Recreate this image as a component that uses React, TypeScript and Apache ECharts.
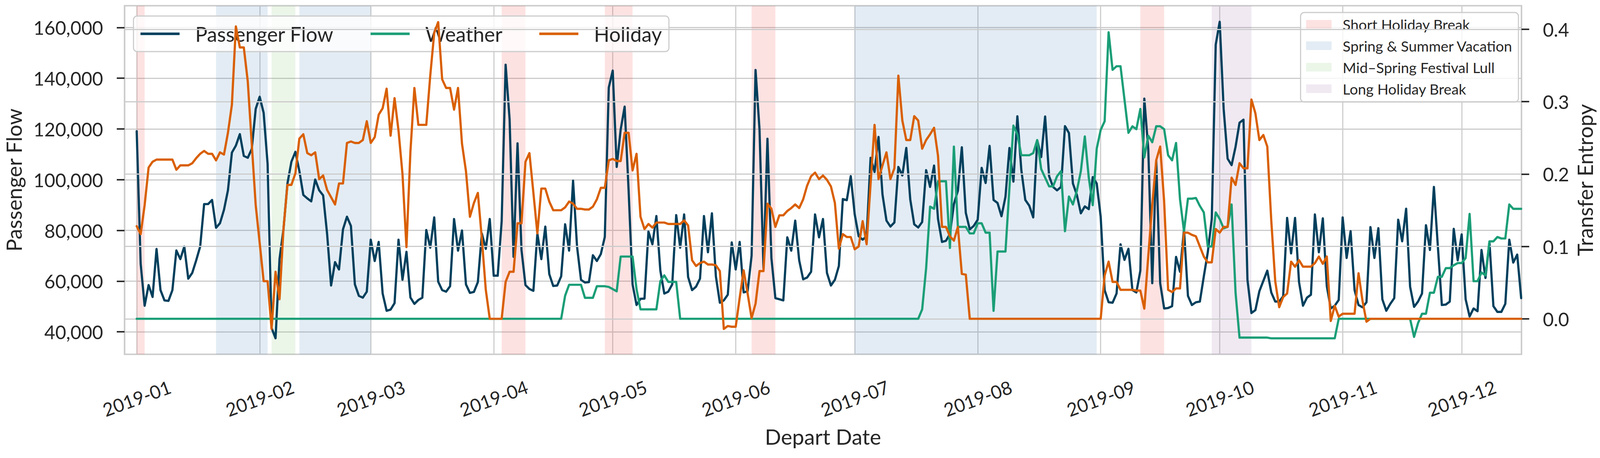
import React, { useEffect, useRef } from "react";
import * as echarts from "echarts";

// ---------- DATA ----------
// Daily passenger flow, 2019-01-01 .. 2019-12-16 (one array per month)
const pfJan = [119100, 66860, 50300, 58450, 53750, 72700, 56460, 52400, 52200, 56460, 72100, 68670, 73640, 60980, 63240, 68210, 73640, 90370, 90370, 92000, 81050, 82860, 88100, 95800, 110700, 113430, 117950, 109360, 108640, 112070, 127900];
const pfFeb = [132700, 126360, 106200, 41540, 37470, 68670, 80420, 98500, 107100, 110990, 103480, 93990, 92630, 91450, 100050, 95800, 93800, 78610, 58270, 67490, 64600, 80420, 85400, 81780, 58720, 54200, 53470, 55830];
const pfMar = [76350, 67940, 75450, 55100, 48320, 48770, 51300, 76350, 60530, 71560, 53560, 51030, 52570, 53470, 80150, 73190, 85120, 59800, 56460, 55830, 58000, 84490, 72010, 79970, 58720, 55370, 55730, 59620, 78790, 72730, 84490];
const pfApr = [62150, 62150, 83590, 145350, 123830, 69570, 114330, 72280, 58450, 56910, 56190, 78790, 68670, 81510, 62790, 58090, 58270, 61880, 82410, 72010, 99590, 73640, 60530, 59440, 59620, 70200, 67940, 70660, 77440, 136310];
const pfMay = [143000, 105020, 119760, 128800, 95800, 58720, 50580, 53020, 53110, 79520, 74540, 85670, 64140, 55100, 55830, 58720, 86030, 73190, 86300, 61610, 56460, 57810, 60980, 85670, 71380, 86750, 61880, 51480, 52400, 54650, 75270];
const pfJun = [64600, 75450, 55550, 56000, 70020, 143270, 119760, 65050, 116140, 69120, 53290, 52850, 52400, 77260, 72010, 83860, 68210, 60710, 61430, 63690, 86300, 77260, 84490, 63240, 58270, 60530, 65950, 92360, 91910, 101400];
const pfJul = [86300, 77710, 76350, 77710, 108640, 103030, 116860, 94170, 83860, 81510, 83130, 105020, 101670, 112520, 92180, 82410, 81150, 83320, 103750, 97150, 105560, 84490, 75450, 75900, 78610, 90370, 95610, 112800, 86930, 80420, 81780];
const pfAug = [84220, 104660, 98690, 113340, 92000, 90820, 85580, 93260, 112520, 99230, 125000, 103750, 92000, 89740, 85120, 115510, 108910, 124910, 101400, 97150, 95800, 97150, 121110, 118400, 98510, 93990, 86750, 89470, 88380, 101040, 98510];
const pfSep = [85400, 56460, 51670, 51490, 55100, 74540, 68390, 72730, 56460, 55550, 64140, 131970, 112070, 59170, 107550, 59170, 49220, 49400, 50130, 69570, 63690, 80420, 54200, 50580, 51670, 51940, 61880, 71380, 84490, 153220];
const pfOct = [162260, 127900, 108270, 105740, 112980, 122470, 123650, 60530, 47410, 48590, 56000, 60080, 64140, 55550, 51940, 51940, 54020, 84940, 70930, 84940, 59620, 50310, 53470, 54650, 86300, 71380, 84760, 58000, 49220, 50310, 52570];
const pfNov = [85120, 69120, 79700, 56460, 50580, 49680, 51670, 81330, 69120, 80870, 52840, 48320, 51030, 53290, 84220, 75720, 88560, 57810, 49860, 51940, 55100, 82050, 72280, 97150, 73640, 50580, 50760, 51940, 80600, 68210];
const pfDec = [78430, 52840, 46060, 49220, 48140, 72280, 61250, 75450, 50130, 47870, 47870, 51030, 76350, 67310, 70470, 53290];

// Transfer entropy: weather -> passenger flow
const weJan = [0, 0, 0, 0, 0, 0, 0, 0, 0, 0, 0, 0, 0, 0, 0, 0, 0, 0, 0, 0, 0, 0, 0, 0, 0, 0, 0, 0, 0, 0, 0];
const weFeb = [0, 0, 0, 0, 0, 0, 0, 0, 0, 0, 0, 0, 0, 0, 0, 0, 0, 0, 0, 0, 0, 0, 0, 0, 0, 0, 0, 0];
const weMar = [0, 0, 0, 0, 0, 0, 0, 0, 0, 0, 0, 0, 0, 0, 0, 0, 0, 0, 0, 0, 0, 0, 0, 0, 0, 0, 0, 0, 0, 0, 0];
const weApr = [0, 0, 0, 0, 0, 0, 0, 0, 0, 0, 0, 0, 0, 0, 0, 0, 0, 0, 0.032, 0.047, 0.047, 0.047, 0.047, 0.029, 0.029, 0.029, 0.045, 0.045, 0.045, 0.044];
const weMay = [0.041, 0.038, 0.086, 0.086, 0.086, 0.086, 0.041, 0.013, 0.013, 0.013, 0.013, 0.013, 0.052, 0.06, 0.051, 0.051, 0.051, 0, 0, 0, 0, 0, 0, 0, 0, 0, 0, 0, 0, 0, 0];
const weJun = [0, 0, 0, 0, 0, 0, 0, 0, 0, 0, 0, 0, 0, 0, 0, 0, 0, 0, 0, 0, 0, 0, 0, 0, 0, 0, 0, 0, 0, 0];
const weJul = [0, 0, 0, 0, 0, 0, 0, 0, 0, 0, 0, 0, 0, 0, 0, 0, 0, 0.013, 0.07, 0.155, 0.152, 0.19, 0.19, 0.19, 0.098, 0.238, 0.127, 0.127, 0.127, 0.118, 0.118];
const weAug = [0.132, 0.132, 0.119, 0.119, 0.011, 0.093, 0.093, 0.093, 0.181, 0.267, 0.255, 0.226, 0.226, 0.226, 0.229, 0.247, 0.207, 0.195, 0.183, 0.183, 0.197, 0.204, 0.121, 0.169, 0.158, 0.177, 0.204, 0.252, 0.195, 0.157, 0.235];
const weSep = [0.261, 0.273, 0.396, 0.344, 0.349, 0.349, 0.303, 0.257, 0.266, 0.262, 0.29, 0.223, 0.253, 0.244, 0.266, 0.266, 0.262, 0.226, 0.219, 0.243, 0.165, 0.121, 0.166, 0.166, 0.167, 0.156, 0.147, 0.1, 0.1, 0.147];
const weOct = [0.138, 0.125, 0.127, 0.158, 0.036, -0.026, -0.026, -0.026, -0.026, -0.026, -0.026, -0.026, -0.026, -0.027, -0.027, -0.027, -0.027, -0.027, -0.027, -0.027, -0.027, -0.027, -0.027, -0.027, -0.027, -0.027, -0.027, -0.027, -0.027, -0.027, 0];
const weNov = [0, 0, 0, 0, 0, 0, 0, 0, 0, 0, 0, 0, 0, 0, 0, 0, 0, 0, -0.025, -0.006, 0.007, 0.007, 0.036, 0.036, 0.058, 0.058, 0.07, 0.07, 0.074, 0.077];
const weDec = [0.077, 0.084, 0.145, 0.052, 0.052, 0.064, 0.06, 0.107, 0.107, 0.113, 0.111, 0.111, 0.158, 0.152, 0.152, 0.152];

// Transfer entropy: holiday -> passenger flow
const hoJan = [0.128, 0.117, 0.157, 0.209, 0.217, 0.22, 0.22, 0.22, 0.22, 0.22, 0.206, 0.212, 0.212, 0.212, 0.215, 0.222, 0.228, 0.232, 0.228, 0.228, 0.219, 0.23, 0.227, 0.257, 0.296, 0.404, 0.375, 0.375, 0.328, 0.242, 0.157];
const hoFeb = [0.105, 0.052, 0.052, -0.014, 0.065, 0.027, 0.124, 0.185, 0.185, 0.201, 0.249, 0.255, 0.229, 0.226, 0.23, 0.193, 0.198, 0.178, 0.168, 0.158, 0.187, 0.187, 0.243, 0.245, 0.243, 0.243, 0.247, 0.273];
const hoMar = [0.243, 0.251, 0.282, 0.291, 0.318, 0.253, 0.305, 0.26, 0.2, 0.099, 0.231, 0.319, 0.268, 0.268, 0.268, 0.336, 0.395, 0.41, 0.331, 0.319, 0.319, 0.289, 0.319, 0.242, 0.204, 0.141, 0.16, 0.174, 0.111, 0.04, 0];
const hoApr = [0, 0, 0, 0.051, 0.065, 0.065, 0.132, 0.132, 0.217, 0.229, 0.174, 0.118, 0.18, 0.18, 0.162, 0.15, 0.15, 0.15, 0.154, 0.162, 0.159, 0.152, 0.152, 0.151, 0.151, 0.155, 0.165, 0.181, 0.181, 0.219];
const hoMay = [0.221, 0.218, 0.218, 0.257, 0.257, 0.205, 0.228, 0.141, 0.124, 0.131, 0.126, 0.133, 0.133, 0.133, 0.131, 0.131, 0.131, 0.131, 0.136, 0.129, 0.081, 0.073, 0.077, 0.079, 0.075, 0.075, 0.074, 0.066, -0.014, -0.01, -0.011];
const hoJun = [-0.011, 0.029, 0.067, 0.035, 0.001, 0.021, 0.066, 0.066, 0.159, 0.152, 0.127, 0.143, 0.143, 0.149, 0.153, 0.158, 0.153, 0.165, 0.184, 0.197, 0.202, 0.193, 0.198, 0.192, 0.183, 0.16, 0.097, 0.117, 0.113, 0.113];
const hoJul = [0.096, 0.1, 0.135, 0.103, 0.187, 0.268, 0.193, 0.212, 0.23, 0.193, 0.208, 0.336, 0.274, 0.247, 0.247, 0.28, 0.274, 0.235, 0.247, 0.255, 0.264, 0.225, 0.127, 0.127, 0.114, 0.108, 0.127, 0.062, 0.061, 0, 0];
const hoAug = [0, 0, 0, 0, 0, 0, 0, 0, 0, 0, 0, 0, 0, 0, 0, 0, 0, 0, 0, 0, 0, 0, 0, 0, 0, 0, 0, 0, 0, 0, 0];
const hoSep = [0, 0.06, 0.079, 0.051, 0.051, 0.04, 0.04, 0.04, 0.04, 0.039, 0.039, 0.014, 0.087, 0.157, 0.219, 0.238, 0.162, 0.04, 0.037, 0.042, 0.042, 0.119, 0.119, 0.116, 0.114, 0.1, 0.086, 0.078, 0.078, 0.124];
const hoOct = [0.119, 0.127, 0.127, 0.195, 0.185, 0.215, 0.208, 0.208, 0.303, 0.284, 0.247, 0.254, 0.238, 0.136, 0.052, 0.016, 0.03, 0.035, 0.079, 0.072, 0.081, 0.072, 0.072, 0.072, 0.077, 0.086, 0.076, 0.086, -0.003, 0.018, 0.003];
const hoNov = [0.007, 0.007, 0.007, 0.007, 0.063, 0.025, -0.004, 0, 0, 0, 0, 0, 0, 0, 0, 0, 0, 0, 0, 0, 0, 0, 0, 0, 0, 0, 0, 0, 0, 0];
const hoDec = [0, 0, 0, 0, 0, 0, 0, 0, 0, 0, 0, 0, 0, 0, 0, 0];

const FIRST_DAY = "2019-01-01";
const LEFT_TICKS = [40000, 60000, 80000, 100000, 120000, 140000, 160000];
const RIGHT_TICKS = [0, 0.1, 0.2, 0.3, 0.4];

// Shaded periods [start, end]
const SHORT_BREAKS = [["2019-01-01", "2019-01-03"], ["2019-04-03", "2019-04-09"], ["2019-04-29", "2019-05-06"], ["2019-06-05", "2019-06-11"], ["2019-09-11", "2019-09-17"]];
const VACATIONS = [["2019-01-21", "2019-02-03"], ["2019-02-11", "2019-03-01"], ["2019-07-01", "2019-08-31"]];
const LULLS = [["2019-02-04", "2019-02-10"]];
const LONG_BREAKS = [["2019-09-29", "2019-10-09"]];

// ---------- HELPERS ----------
const DAY = 86400000;
const ts = (s: string) => {
  const p = s.split("-").map(Number);
  return Date.UTC(p[0], p[1] - 1, p[2] || 1);
};
const START = ts(FIRST_DAY);
const PASSENGER = [...pfJan, ...pfFeb, ...pfMar, ...pfApr, ...pfMay, ...pfJun, ...pfJul, ...pfAug, ...pfSep, ...pfOct, ...pfNov, ...pfDec];
const WEATHER = [...weJan, ...weFeb, ...weMar, ...weApr, ...weMay, ...weJun, ...weJul, ...weAug, ...weSep, ...weOct, ...weNov, ...weDec];
const HOLIDAY = [...hoJan, ...hoFeb, ...hoMar, ...hoApr, ...hoMay, ...hoJun, ...hoJul, ...hoAug, ...hoSep, ...hoOct, ...hoNov, ...hoDec];
const toPairs = (arr: number[]) => arr.map((v, i) => [START + i * DAY, v]);

const FONT = "Lato";
const INK = "#262626";
const GRID = "#cccccc";
const NAVY = "#003f5c";
const GREEN = "#1b9e77";
const ORANGE = "#d95f02";

const BAND_DEFS = [
  { name: "Short Holiday Break", color: "rgba(240,60,60,0.15)", spans: SHORT_BREAKS },
  { name: "Spring & Summer Vacation", color: "rgba(70,130,180,0.15)", spans: VACATIONS },
  { name: "Mid\u2013Spring Festival Lull", color: "rgba(120,195,110,0.15)", spans: LULLS },
  { name: "Long Holiday Break", color: "rgba(155,110,170,0.15)", spans: LONG_BREAKS },
];

const REF_W = 4339;
const REF_H = 1172;

export default function App() {
  const ref = useRef<HTMLDivElement>(null);
  useEffect(() => {
    const el = ref.current;
    if (!el) return;
    const W = el.clientWidth || REF_W;
    const H = el.clientHeight || REF_H;
    const sx = W / REF_W;
    const sy = H / REF_H;
    const s = Math.min(sx, sy);
    const X = (v: number) => v * sx;
    const Y = (v: number) => v * sy;
    const S = (v: number) => v * s;

    const chart = echarts.init(el, null, { renderer: "svg", width: W, height: H });
    const bandSeries = BAND_DEFS.map((b) => ({
      name: b.name,
      type: "line",
      yAxisIndex: 0,
      data: [],
      z: 1,
      color: b.color,
      itemStyle: { color: b.color },
      lineStyle: { width: 0 },
      silent: true,
      markArea: {
        silent: true,
        itemStyle: { color: b.color },
        data: b.spans.map(([a, c]) => [{ xAxis: ts(a) }, { xAxis: ts(c) }]),
      },
    }));
    const lineSeries = (name: string, data: number[], color: string, yAxisIndex: number, z: number) => ({
      name,
      type: "line",
      yAxisIndex,
      z,
      data: toPairs(data),
      showSymbol: false,
      symbol: "none",
      color,
      lineStyle: { width: S(6), color, join: "round", cap: "round" },
    });
    const option: any = {
      animation: false,
      useUTC: true,
      backgroundColor: "#ffffff",
      textStyle: { fontFamily: FONT, color: INK },
      grid: {
        left: X(337),
        right: X(213),
        top: Y(14.7),
        bottom: Y(265.3),
        show: true,
        borderColor: GRID,
        borderWidth: S(4),
        backgroundColor: "transparent",
      },
      xAxis: {
        type: "time",
        min: START - 3.07 * DAY,
        max: START + 349.07 * DAY,
        splitNumber: 12,
        minInterval: 28 * DAY,
        z: 0,
        axisLine: { show: false },
        axisTick: { show: false },
        splitLine: { show: true, lineStyle: { color: GRID, width: S(3) } },
        axisLabel: {
          formatter: (v: number) => {
            const d = new Date(v);
            return d.getUTCFullYear() + "-" + String(d.getUTCMonth() + 1).padStart(2, "0");
          },
          showMinLabel: false,
          showMaxLabel: false,
          rotate: 20,
          align: "center",
          verticalAlign: "middle",
          margin: Y(112),
          fontSize: S(50),
          color: INK,
          fontFamily: FONT,
          hideOverlap: false,
        },
        name: "Depart Date",
        nameLocation: "middle",
        nameGap: Y(183),
        nameTextStyle: { fontSize: S(58), color: INK, fontFamily: FONT },
      },
      yAxis: [
        {
          type: "value",
          position: "left",
          min: 31140,
          max: 168580,
          splitNumber: 7,
          z: 0,
          axisLine: { show: false },
          axisTick: { show: true, inside: false, length: X(21), customValues: LEFT_TICKS, lineStyle: { color: INK, width: S(4) } },
          axisLabel: {
            customValues: LEFT_TICKS,
            formatter: (v: number) => v.toLocaleString("en-US"),
            margin: X(58),
            fontSize: S(51),
            color: INK,
            fontFamily: FONT,
          },
          splitLine: { show: true, lineStyle: { color: GRID, width: S(3) } },
          name: "Passenger Flow",
          nameLocation: "middle",
          nameRotate: 90,
          nameGap: X(272),
          nameTextStyle: { fontSize: S(57), color: INK, fontFamily: FONT },
        },
        {
          type: "value",
          position: "right",
          min: -0.0491,
          max: 0.4326,
          splitNumber: 5,
          z: 4,
          axisLine: { show: false },
          axisTick: { show: true, inside: false, length: X(21), customValues: RIGHT_TICKS, lineStyle: { color: INK, width: S(4) } },
          axisLabel: {
            customValues: RIGHT_TICKS,
            formatter: (v: number) => v.toFixed(1),
            margin: X(58),
            fontSize: S(51),
            color: INK,
            fontFamily: FONT,
          },
          splitLine: { show: true, lineStyle: { color: GRID, width: S(3) } },
          name: "Transfer Entropy",
          nameLocation: "middle",
          nameRotate: 90,
          nameGap: X(143),
          nameTextStyle: { fontSize: S(57), color: INK, fontFamily: FONT },
        },
      ],
      legend: [
        {
          z: 3,
          left: X(362),
          top: Y(41),
          orient: "horizontal",
          itemGap: X(100),
          itemWidth: X(106),
          itemHeight: S(7),
          padding: [Y(12), X(19), Y(12), X(19)],
          backgroundColor: "rgba(255,255,255,0.8)",
          borderColor: GRID,
          borderWidth: S(3),
          borderRadius: S(10),
          selectedMode: false,
          textStyle: { fontSize: S(55), color: INK, fontFamily: FONT, padding: [0, 0, 0, X(37)], lineHeight: Y(67) },
          data: [
            { name: "Passenger Flow", icon: "rect", itemStyle: { color: NAVY } },
            { name: "Weather", icon: "rect", itemStyle: { color: GREEN } },
            { name: "Holiday", icon: "rect", itemStyle: { color: ORANGE } },
          ],
        },
        {
          z: 3,
          left: X(3527),
          top: Y(32),
          orient: "vertical",
          itemGap: Y(15),
          itemWidth: X(69),
          itemHeight: Y(22),
          padding: [Y(10), X(15), Y(14), X(15)],
          backgroundColor: "rgba(255,255,255,0.8)",
          borderColor: GRID,
          borderWidth: S(3),
          borderRadius: S(10),
          selectedMode: false,
          textStyle: { fontSize: S(39.5), color: INK, fontFamily: FONT, padding: [0, 0, 0, X(25)], lineHeight: Y(40) },
          data: BAND_DEFS.map((b) => ({ name: b.name, icon: "rect", itemStyle: { color: b.color } })),
        },
      ],
      series: [
        ...bandSeries,
        lineSeries("Passenger Flow", PASSENGER, NAVY, 0, 2),
        lineSeries("Weather", WEATHER, GREEN, 1, 5),
        lineSeries("Holiday", HOLIDAY, ORANGE, 1, 5),
      ],
    };
    chart.setOption(option);
    return () => chart.dispose();
  }, []);
  return <div ref={ref} style={{ position: "fixed", left: 0, top: 0, width: "100vw", height: "100vh" }} />;
}
